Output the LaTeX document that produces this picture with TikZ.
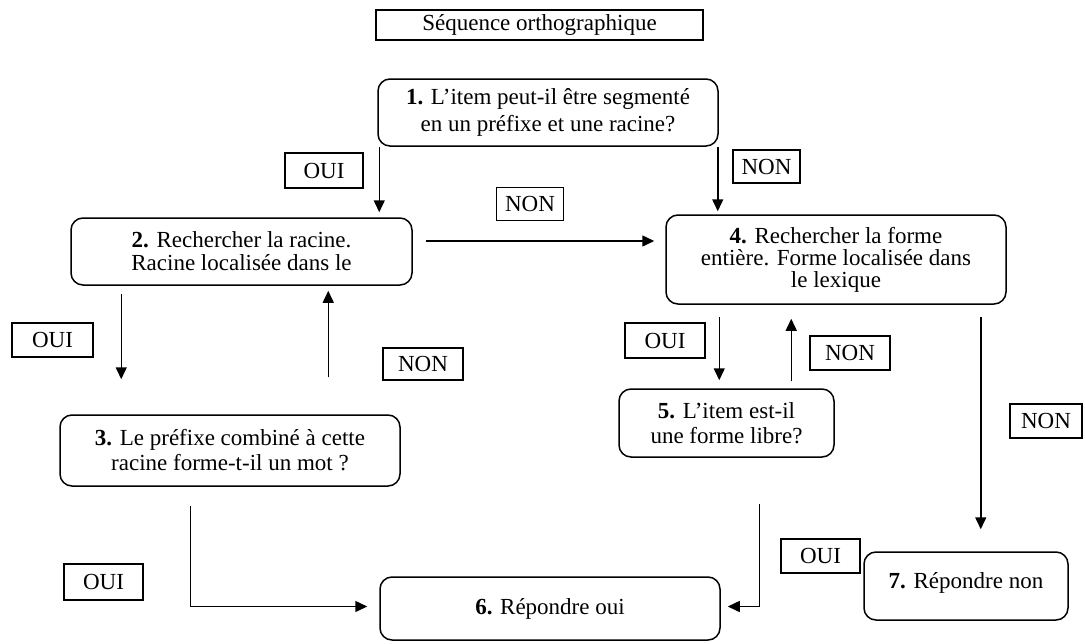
\documentclass[tikz,border=0pt]{standalone}
\usepackage{fontspec}
\setmainfont{Liberation Serif}
\usetikzlibrary{arrows.meta,calc}
\begin{document}
\begin{tikzpicture}[x=1pt,y=-1pt,
  font=\fontsize{23}{25}\selectfont,
  box/.style={draw, line width=1.5pt, rounded corners=12pt, align=center, inner sep=0pt},
  lab/.style={draw, line width=1.3pt, inner sep=0pt},
  arr/.style={line width=1.5pt, -{Triangle[length=12pt,width=11pt]}},
  ln/.style={line width=1.5pt}]
\useasboundingbox (0,0) rectangle (1085,643);

% title
\node[lab, minimum width=327, minimum height=30] (title) at (539.5,25) {Séquence orthographique};

% boxes
\node[box, minimum width=340, minimum height=67, font=\fontsize{23}{27}\selectfont] (b1) at (548,112.5)
  {\textbf{1.} L’item peut-il être segmenté\\en un préfixe et une racine?};
\node[box, minimum width=341, minimum height=67, font=\fontsize{23}{23}\selectfont] (b2) at (241.5,251.5)
  {\textbf{2.} Rechercher la racine.\\Racine localisée dans le};
\node[box, minimum width=340, minimum height=71, font=\fontsize{23}{25}\selectfont] (b3) at (230,450.5)
  {\textbf{3.} Le préfixe combiné à cette\\racine forme-t-il un mot ?};
\node[box, minimum width=340, minimum height=89, font=\fontsize{23}{22}\selectfont] (b4) at (836,259.5)
  {\textbf{4.} Rechercher la forme\\entière. Forme localisée dans\\le lexique};
\node[box, minimum width=215, minimum height=68, font=\fontsize{23}{25}\selectfont] (b5) at (726.5,423)
  {\textbf{5.} L’item est-il\\une forme libre?};
\node[box, minimum width=340, minimum height=63] (b6) at (550,608.5)
  {\raisebox{4pt}{\textbf{6.} Répondre oui}};
\node[box, minimum width=204, minimum height=68] (b7) at (966,586)
  {\raisebox{11pt}{\textbf{7.} Répondre non}};

% labels
\node[lab, minimum width=78, minimum height=35] (o1) at (324,170.5) {OUI\hspace{8pt}};
\node[lab, minimum width=67, minimum height=33] (n1) at (766.5,166.5) {NON};
\node[lab, minimum width=67, minimum height=33] (n2) at (530,204) {NON};
\node[lab, minimum width=81, minimum height=34] (o2) at (52.5,340) {OUI\hspace{8pt}};
\node[lab, minimum width=80, minimum height=32] (n3) at (423,364) {NON};
\node[lab, minimum width=80, minimum height=35] (o3) at (665,340.5) {OUI\hspace{8pt}};
\node[lab, minimum width=80, minimum height=34] (n4) at (850,353) {NON};
\node[lab, minimum width=72, minimum height=34] (n5) at (1046,421) {NON};
\node[lab, minimum width=79, minimum height=36] (o4) at (103.5,582) {OUI\hspace{8pt}};
\node[lab, minimum width=79, minimum height=34] (o5) at (820.5,556) {OUI\hspace{8pt}};

% connectors
\draw[arr, shorten >=5pt] ($(b1.south west)+(2,0)$) -- ($(b1.south west |- b2.north)+(2,0)$);
\draw[arr, shorten >=3pt] ($(b1.south east)+(-1,0)$) -- ($(b1.south east |- b4.north)+(-1,0)$);
\draw[arr] ($(b2.east |- 0,241)+(13,0)$) -- ($(b4.west |- 0,241)+(-11,0)$);
\draw[arr] ($(b2.south west)+(51,8)$) -- ($(b2.south west |- b3.north)+(51,-35)$);
\draw[arr] ($(b3.north west)+(269,-37)$) -- ($(b3.north west |- b2.south)+(269,5)$);
\draw[arr] ($(b4.south west)+(54,12)$) -- ($(b4.south west |- b5.north)+(54,-8)$);
\draw[arr] ($(b5.north west)+(173,-7)$) -- ($(b5.north west |- b4.south)+(173,14)$);
\draw[arr] ($(b4.south east)+(-26,12)$) -- ($(b4.south east |- b7.north)+(-26,-22)$);
\draw[arr] ($(b3.south west)+(131,19)$) |- ($(b6.west)+(-12,-2)$);
\draw[arr] ($(b5.south west)+(141,46)$) |- ($(b6.east)+(7,-2)$);
\end{tikzpicture}
\end{document}
